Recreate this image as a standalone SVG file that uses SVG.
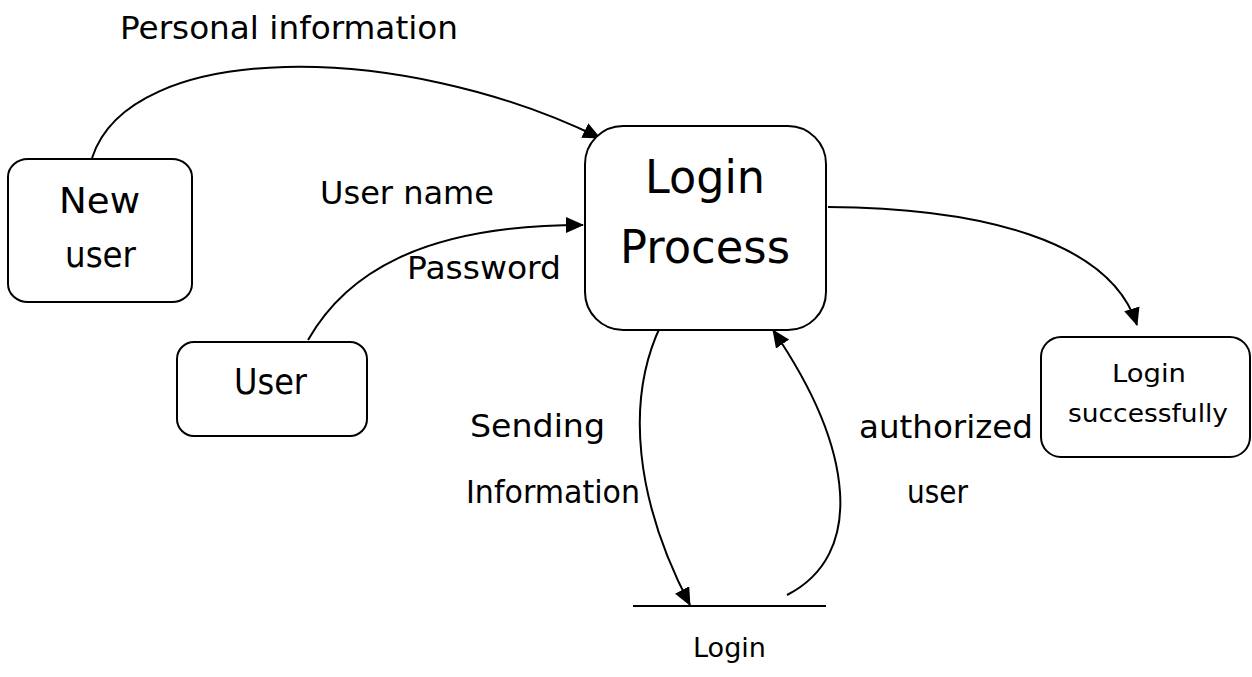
<svg xmlns="http://www.w3.org/2000/svg" width="1252" height="677" viewBox="0 0 1252 677">
<style>
  .box { fill: #fff; stroke: #000; stroke-width: 2; }
  .conn { fill: none; stroke: #000; stroke-width: 2; }
  text { font-family: "DejaVu Sans", "Liberation Sans", sans-serif; fill: #000; }
  .lbl { font-size: 32px; }
</style>
<defs>
  <marker id="arrow" viewBox="0 0 18 16" refX="17" refY="8" markerWidth="18" markerHeight="16" markerUnits="userSpaceOnUse" orient="auto">
    <path d="M0,0 L18,8 L0,16 z" fill="#000"/>
  </marker>
</defs>
<rect width="1252" height="677" fill="#fff"/>

<g id="connectors">
  <path class="conn" d="M92,158 C130,40 400,40 600,138" marker-end="url(#arrow)"/>
  <path class="conn" d="M308,340 C345,275 420,225 583,225" marker-end="url(#arrow)"/>
  <path class="conn" d="M828,207 C980,208 1110,240 1137,325" marker-end="url(#arrow)"/>
  <path class="conn" d="M661,325 C625,400 635,500 690,605" marker-end="url(#arrow)"/>
  <path class="conn" d="M787,595 C865,555 855,450 773,330" marker-end="url(#arrow)"/>
  <text class="lbl" x="120" y="39" textLength="338" lengthAdjust="spacingAndGlyphs">Personal information</text>
  <text class="lbl" x="320" y="204" textLength="174" lengthAdjust="spacingAndGlyphs">User name</text>
  <text class="lbl" x="407" y="279" textLength="154" lengthAdjust="spacingAndGlyphs">Password</text>
  <text class="lbl" x="470" y="437" textLength="135" lengthAdjust="spacingAndGlyphs">Sending</text>
  <text class="lbl" x="466" y="503" textLength="174" lengthAdjust="spacingAndGlyphs">Information</text>
  <text class="lbl" x="859" y="438" textLength="174" lengthAdjust="spacingAndGlyphs">authorized</text>
  <text class="lbl" x="907" y="503" textLength="61" lengthAdjust="spacingAndGlyphs">user</text>
</g>

<g id="new-user">
  <rect class="box" x="8" y="159" width="184" height="143" rx="20" ry="18"/>
  <text x="59" y="213" font-size="35" textLength="81" lengthAdjust="spacingAndGlyphs">New</text>
  <text x="65" y="267" font-size="35" textLength="71" lengthAdjust="spacingAndGlyphs">user</text>
</g>

<g id="user">
  <rect class="box" x="177" y="342" width="190" height="94" rx="17" ry="17"/>
  <text x="234" y="394" font-size="35" textLength="73" lengthAdjust="spacingAndGlyphs">User</text>
</g>

<g id="login-process">
  <rect class="box" x="585" y="126" width="241" height="204" rx="38" ry="38"/>
  <text x="645" y="193" font-size="47" textLength="120" lengthAdjust="spacingAndGlyphs">Login</text>
  <text x="620" y="263" font-size="47" textLength="170" lengthAdjust="spacingAndGlyphs">Process</text>
</g>

<g id="login-successfully">
  <rect class="box" x="1041" y="337" width="209" height="120" rx="20" ry="20"/>
  <text x="1112" y="382" font-size="25" textLength="74" lengthAdjust="spacingAndGlyphs">Login</text>
  <text x="1068" y="422" font-size="25" textLength="160" lengthAdjust="spacingAndGlyphs">successfully</text>
</g>

<g id="login-store">
  <line class="conn" x1="633" y1="606" x2="826" y2="606"/>
  <text x="693" y="657" font-size="27" textLength="73" lengthAdjust="spacingAndGlyphs">Login</text>
</g>
</svg>
